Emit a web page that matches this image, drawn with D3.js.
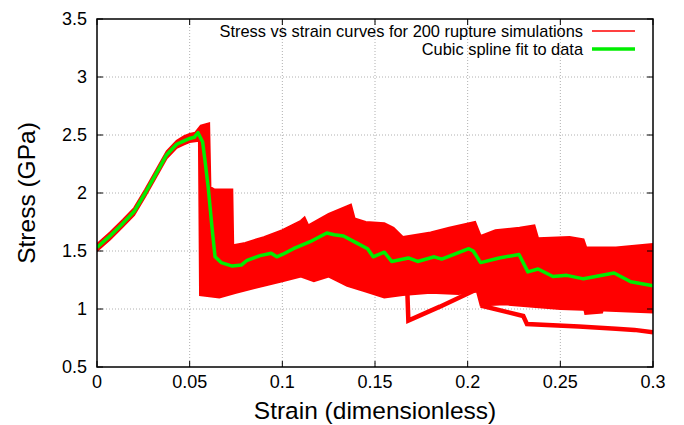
<!DOCTYPE html>
<html>
<head>
<meta charset="utf-8">
<script src="https://cdn.jsdelivr.net/npm/d3@7"></script>
<style>
  body { margin: 0; background: #fff; }
  text { font-family: "Liberation Sans", Arial, sans-serif; fill: #000; }
</style>
</head>
<body>
<div id="chart"></div>
<script>
// tick values
var xTicks = [0, 0.05, 0.1, 0.15, 0.2, 0.25, 0.3];
var yTicks = [0.5, 1, 1.5, 2, 2.5, 3, 3.5];

// upper / lower edges of the dense band of 200 simulation curves [strain, stress]
var bandUpper = [[0,1.56],[0.007,1.66],[0.014,1.77],[0.02,1.87],[0.026,2.03],[0.032,2.20],[0.0376,2.36],
  [0.043,2.45],[0.047,2.49],[0.05,2.51],[0.053,2.52],[0.056,2.58],[0.0605,2.60],[0.0612,2.05],
  [0.0635,2.03],[0.073,2.03],[0.0735,1.55],[0.08,1.57],[0.09,1.62],[0.1,1.68],[0.11,1.76],[0.112,1.79],
  [0.114,1.72],[0.125,1.82],[0.137,1.90],[0.139,1.78],[0.145,1.75],[0.155,1.74],[0.16,1.70],[0.165,1.62],
  [0.18,1.66],[0.19,1.70],[0.204,1.75],[0.207,1.63],[0.215,1.68],[0.228,1.70],[0.236,1.72],[0.238,1.61],
  [0.255,1.62],[0.2625,1.60],[0.264,1.53],[0.28,1.53],[0.3,1.56]];
var bandLower = [[0,1.50],[0.007,1.60],[0.014,1.71],[0.02,1.81],[0.026,1.97],[0.032,2.14],[0.0376,2.30],
  [0.043,2.39],[0.047,2.42],[0.05,2.44],[0.055,2.45],[0.0556,1.12],[0.066,1.10],[0.075,1.14],
  [0.085,1.18],[0.095,1.22],[0.1,1.24],[0.11,1.28],[0.117,1.24],[0.125,1.28],[0.135,1.20],[0.145,1.15],
  [0.155,1.10],[0.165,1.12],[0.18,1.14],[0.195,1.13],[0.205,1.15],[0.207,1.03],[0.22,1.04],[0.235,1.02],
  [0.25,1.00],[0.27,0.99],[0.3,0.97]];

// individual simulation curves that leave the band
var outlierDip = [[0.167,1.35],[0.168,0.90],[0.185,1.02],[0.205,1.17]];
var outlierLow = [[0.207,1.03],[0.23,0.94],[0.232,0.87],[0.26,0.85],[0.28,0.83],[0.29,0.82],[0.3,0.80]];
var outlierBox = [[0.262,1.12],[0.264,0.97],[0.272,0.98],[0.274,1.10],[0.3,1.08]];

// cubic spline fit
var fitCurve = [[0,1.53],[0.007,1.63],[0.014,1.74],[0.02,1.84],[0.026,2.0],[0.032,2.17],[0.0376,2.33],
  [0.043,2.42],[0.047,2.45],[0.05,2.47],[0.0525,2.48],[0.0545,2.52],[0.057,2.44],[0.0585,2.25],[0.06,2.05],
  [0.062,1.71],[0.0637,1.45],[0.067,1.40],[0.073,1.37],[0.078,1.38],[0.081,1.42],[0.088,1.46],[0.094,1.48],
  [0.097,1.45],[0.1,1.47],[0.106,1.52],[0.115,1.58],[0.124,1.655],[0.128,1.64],[0.133,1.63],[0.14,1.57],
  [0.146,1.52],[0.149,1.45],[0.155,1.49],[0.159,1.41],[0.168,1.44],[0.173,1.41],[0.182,1.45],[0.186,1.43],
  [0.2006,1.52],[0.203,1.50],[0.207,1.40],[0.217,1.44],[0.2277,1.47],[0.2325,1.32],[0.238,1.345],
  [0.246,1.28],[0.2535,1.29],[0.2625,1.26],[0.279,1.31],[0.288,1.235],[0.3,1.20]];

var legendLabels = ["Stress vs strain curves for 200 rupture simulations", "Cubic spline fit to data"];

var width = 684, height = 425,
    margin = {top: 19, right: 31, bottom: 58, left: 97};

var svg = d3.select("#chart").append("svg")
    .attr("width", width)
    .attr("height", height);

var x = d3.scaleLinear().domain([0, 0.3]).range([margin.left, width - margin.right]);
var y = d3.scaleLinear().domain([0.5, 3.5]).range([height - margin.bottom, margin.top]);

// grid
svg.append("g").selectAll("line")
    .data(xTicks.slice(1, -1))
    .enter().append("line")
    .attr("x1", x).attr("x2", x)
    .attr("y1", y(0.5)).attr("y2", y(3.5))
    .attr("stroke", "#b0b0b0").attr("stroke-dasharray", "1,2");
svg.append("g").selectAll("line")
    .data(yTicks.slice(1, -1))
    .enter().append("line")
    .attr("y1", y).attr("y2", y)
    .attr("x1", x(0)).attr("x2", x(0.3))
    .attr("stroke", "#b0b0b0").attr("stroke-dasharray", "1,2");

svg.append("clipPath").attr("id", "clip")
  .append("rect")
    .attr("x", margin.left).attr("y", margin.top)
    .attr("width", width - margin.left - margin.right)
    .attr("height", height - margin.top - margin.bottom);

var plot = svg.append("g").attr("clip-path", "url(#clip)");

var line = d3.line().x(function(d) { return x(d[0]); }).y(function(d) { return y(d[1]); });

// band as closed polygon
plot.append("path")
    .attr("d", line(bandUpper.concat(bandLower.slice().reverse())) + "Z")
    .attr("fill", "#ff0000")
    .attr("stroke", "#ff0000")
    .attr("stroke-width", 2);

[outlierDip, outlierLow, outlierBox].forEach(function(c) {
  plot.append("path")
      .attr("d", line(c))
      .attr("fill", "none")
      .attr("stroke", "#ff0000")
      .attr("stroke-width", 4.5);
});

plot.append("path")
    .attr("d", line(fitCurve))
    .attr("fill", "none")
    .attr("stroke", "#00ee00")
    .attr("stroke-width", 3.5)
    .attr("stroke-linejoin", "round");

// frame and ticks (mirrored, inward)
svg.append("rect")
    .attr("x", x(0)).attr("y", y(3.5))
    .attr("width", x(0.3) - x(0)).attr("height", y(0.5) - y(3.5))
    .attr("fill", "none").attr("stroke", "#000").attr("stroke-width", 1.5);

var tk = 6;
xTicks.forEach(function(t) {
  svg.append("line").attr("x1", x(t)).attr("x2", x(t)).attr("y1", y(0.5)).attr("y2", y(0.5) - tk).attr("stroke", "#000");
  svg.append("line").attr("x1", x(t)).attr("x2", x(t)).attr("y1", y(3.5)).attr("y2", y(3.5) + tk).attr("stroke", "#000");
  svg.append("text").attr("x", x(t)).attr("y", y(0.5) + 21)
      .attr("text-anchor", "middle").attr("font-size", 18).text(t);
});
yTicks.forEach(function(t) {
  svg.append("line").attr("y1", y(t)).attr("y2", y(t)).attr("x1", x(0)).attr("x2", x(0) + tk).attr("stroke", "#000");
  svg.append("line").attr("y1", y(t)).attr("y2", y(t)).attr("x1", x(0.3)).attr("x2", x(0.3) - tk).attr("stroke", "#000");
  svg.append("text").attr("x", x(0) - 10).attr("y", y(t) + 6)
      .attr("text-anchor", "end").attr("font-size", 18).text(t);
});

svg.append("text")
    .attr("x", (x(0) + x(0.3)) / 2).attr("y", 419)
    .attr("text-anchor", "middle").attr("font-size", 24.5)
    .text("Strain (dimensionless)");
svg.append("text")
    .attr("transform", "translate(35," + (y(0.5) + y(3.5)) / 2 + ") rotate(-90)")
    .attr("text-anchor", "middle").attr("font-size", 24.5)
    .text("Stress (GPa)");

// legend
var legendColors = ["#ff0000", "#00ee00"], legendWidths = [1.5, 3.5];
legendLabels.forEach(function(lbl, i) {
  var ly = 31 + i * 18;
  svg.append("text").attr("x", 583).attr("y", ly + 6)
      .attr("text-anchor", "end").attr("font-size", 16.4).text(lbl);
  svg.append("line").attr("x1", 592).attr("x2", 635).attr("y1", ly).attr("y2", ly)
      .attr("stroke", legendColors[i]).attr("stroke-width", legendWidths[i]);
});
</script>
</body>
</html>
